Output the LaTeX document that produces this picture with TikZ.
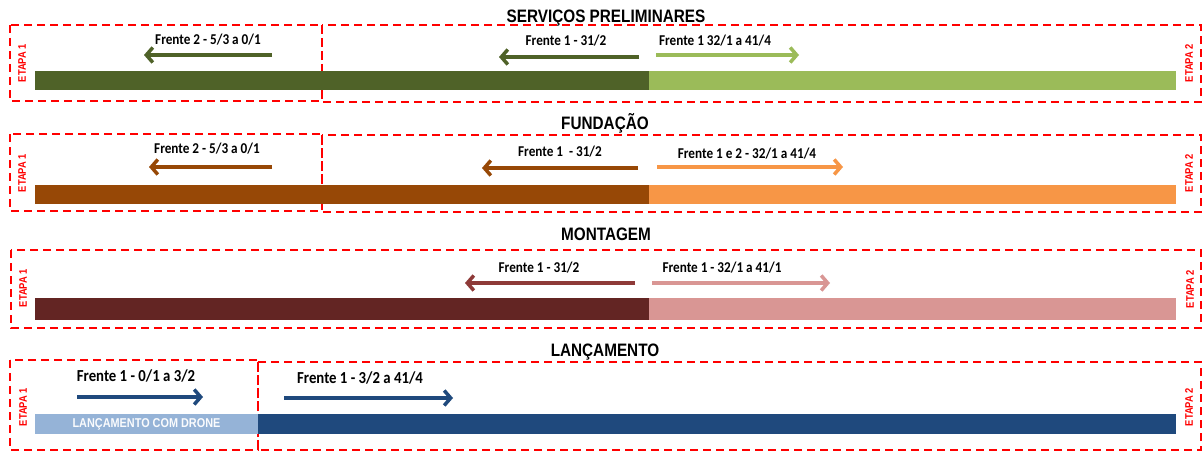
\documentclass[tikz,border=0pt]{standalone}
\usepackage{fontspec}
\usetikzlibrary{arrows.meta}
\newfontfamily\titlefont{Liberation Sans}[FakeStretch=0.85]
\newfontfamily\lblfont{Carlito}[FakeStretch=0.88]
\definecolor{olive}{HTML}{4F6228}
\definecolor{lgreen}{HTML}{9BBB59}
\definecolor{brownc}{HTML}{974806}
\definecolor{orangec}{HTML}{F79646}
\definecolor{dred}{HTML}{632523}
\definecolor{redarr}{HTML}{8E3A38}
\definecolor{pinkc}{HTML}{D99694}
\definecolor{dblue}{HTML}{1F497D}
\definecolor{lblue}{HTML}{95B3D7}
\definecolor{dashred}{HTML}{FF0000}
\begin{document}
\begin{tikzpicture}[x=1pt,y=-1pt,
  etapabox/.style={draw=dashred, line width=2pt, dash pattern=on 8pt off 5pt},
  bar/.style={inner sep=0pt, outer sep=0pt, anchor=north west, draw=none},
  title/.style={font=\titlefont\bfseries\fontsize{18}{20}\selectfont, anchor=base, inner sep=0pt},
  lbl/.style={font=\lblfont\bfseries\fontsize{15}{17}\selectfont, anchor=base, inner sep=0pt},
  biglbl/.style={font=\lblfont\bfseries\fontsize{16.8}{19}\selectfont, anchor=base, inner sep=0pt},
  etapa/.style={font=\titlefont\bfseries\fontsize{11}{12}\selectfont, text=dashred, rotate=90, inner sep=0pt},
  arr/.style={line width=3.5pt, -{Straight Barb[length=6.5pt,width=15pt]}}
]
\useasboundingbox[fill=white] (0,0) rectangle (1202,452);

% ---------- SERVICOS PRELIMINARES ----------
\node[title] (t1) at (606,23) {SERVIÇOS PRELIMINARES};
\draw[etapabox] (10,25) rectangle (322,101);
\draw[etapabox] (322,25) rectangle (1201,102);
\node[bar, fill=olive, minimum width=614pt, minimum height=19pt] (b1a) at (35,71) {};
\node[bar, fill=lgreen, minimum width=527pt, minimum height=19pt] (b1b) at (649,71) {};
\node[etapa] (e1a) at (22,63) {ETAPA 1};
\node[etapa] (e1b) at (1189,63) {ETAPA 2};
\node[lbl] (l1a) at (208,45) {Frente 2 - 5/3 a 0/1};
\node[lbl] (l1b) at (566,46) {Frente 1 - 31/2};
\node[lbl] (l1c) at (715,46) {Frente 1 32/1 a 41/4};
\coordinate (a1s) at (272,55); \coordinate (a1e) at (144,55);
\coordinate (a2s) at (639,57); \coordinate (a2e) at (499,57);
\coordinate (a3s) at (656,55); \coordinate (a3e) at (799,55);
\draw[arr, olive] (a1s) -- (a1e);
\draw[arr, olive] (a2s) -- (a2e);
\draw[arr, lgreen] (a3s) -- (a3e);

% ---------- FUNDACAO ----------
\node[title] (t2) at (605,129) {FUNDAÇÃO};
\draw[etapabox] (10,134) rectangle (322,211);
\draw[etapabox] (322,135) rectangle (1201,212);
\node[bar, fill=brownc, minimum width=614pt, minimum height=19pt] (b2a) at (35,185) {};
\node[bar, fill=orangec, minimum width=527pt, minimum height=19pt] (b2b) at (649,185) {};
\node[etapa] (e2a) at (22,173) {ETAPA 1};
\node[etapa] (e2b) at (1189,173) {ETAPA 2};
\node[lbl] (l2a) at (207,153) {Frente 2 - 5/3 a 0/1};
\node[lbl] (l2b) at (560,156) {Frente 1 \ - 31/2};
\node[lbl] (l2c) at (747,158) {Frente 1 e 2 - 32/1 a 41/4};
\coordinate (b1s) at (272,167); \coordinate (b1e) at (149,167);
\coordinate (b2s) at (638,168); \coordinate (b2e) at (482,168);
\coordinate (b3s) at (657,167); \coordinate (b3e) at (843,167);
\draw[arr, brownc] (b1s) -- (b1e);
\draw[arr, brownc] (b2s) -- (b2e);
\draw[arr, orangec] (b3s) -- (b3e);

% ---------- MONTAGEM ----------
\node[title] (t3) at (606,240) {MONTAGEM};
\draw[etapabox] (11,250) rectangle (1201,328);
\node[bar, fill=dred, minimum width=614pt, minimum height=22pt] (b3a) at (35,298) {};
\node[bar, fill=pinkc, minimum width=527pt, minimum height=22pt] (b3b) at (649,298) {};
\node[etapa] (e3a) at (23,288) {ETAPA 1};
\node[etapa] (e3b) at (1190,289) {ETAPA 2};
\node[lbl] (l3a) at (539,272) {Frente 1 - 31/2};
\node[lbl] (l3b) at (722,272) {Frente 1 - 32/1 a 41/1};
\coordinate (c1s) at (635,283); \coordinate (c1e) at (465,283);
\coordinate (c2s) at (652,283); \coordinate (c2e) at (830,283);
\draw[arr, redarr] (c1s) -- (c1e);
\draw[arr, pinkc] (c2s) -- (c2e);

% ---------- LANCAMENTO ----------
\node[title] (t4) at (605,356) {LANÇAMENTO};
\draw[etapabox] (10,360) rectangle (258,450);
\draw[etapabox] (258,362) rectangle (1201,450);
\node[bar, fill=lblue, minimum width=223pt, minimum height=20pt, text=white!95!lblue,
      font=\titlefont\bfseries\fontsize{12.8}{14}\selectfont] (b4a) at (35,414) {LANÇAMENTO COM DRONE};
\node[bar, fill=dblue, minimum width=918pt, minimum height=20pt] (b4b) at (258,414) {};
\node[etapa] (e4a) at (23,407) {ETAPA 1};
\node[etapa] (e4b) at (1189,407) {ETAPA 2};
\node[biglbl] (l4a) at (136,381) {Frente 1 - 0/1 a 3/2};
\node[biglbl] (l4b) at (360,383) {Frente 1 - 3/2 a 41/4};
\coordinate (d1s) at (77,397); \coordinate (d1e) at (203,397);
\coordinate (d2s) at (284,398); \coordinate (d2e) at (453,398);
\draw[arr, dblue] (d1s) -- (d1e);
\draw[arr, dblue] (d2s) -- (d2e);
\end{tikzpicture}
\end{document}
